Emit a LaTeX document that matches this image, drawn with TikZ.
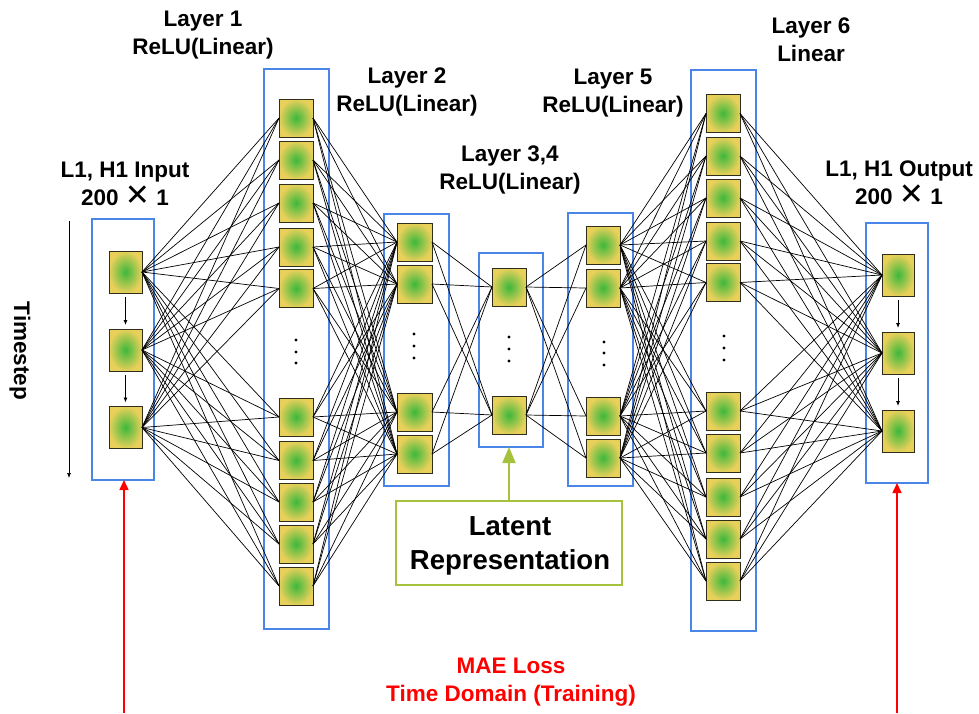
\documentclass[tikz,border=0pt]{standalone}
\usepackage{fontspec}
\setmainfont{Liberation Sans}
\newfontfamily\xsymfont{DejaVu Sans}
\usetikzlibrary{arrows.meta}
\definecolor{nblue}{HTML}{4A86E8}
\definecolor{ngreen}{HTML}{3CB83C}
\definecolor{nyellow}{HTML}{E8D05A}
\definecolor{latentc}{HTML}{A6C13C}
\definecolor{nborder}{HTML}{2E2E1A}
\newcommand\timesx{{\xsymfont\bfseries\fontsize{30}{28}\selectfont ✕}}
\begin{document}
\begin{tikzpicture}[x=1pt,y=-1pt,
  neuron/.style={draw=nborder, line width=0.9pt, shading=radial, inner color=ngreen, outer color=nyellow,
    minimum width=34pt, minimum height=38pt, inner sep=0pt, outer sep=0pt},
  layerbox/.style={draw=nblue, line width=1.8pt, inner sep=0pt, outer sep=0pt},
  conn/.style={black, line width=0.7pt},
  lbl/.style={font=\bfseries\fontsize{22.5}{28}\selectfont, align=center, inner sep=0pt},
  vdot/.style={fill=black, circle, inner sep=0pt, minimum size=3.4pt},
  smallarrow/.style={black, line width=0.8pt, -{Latex[length=5pt,width=4pt]}},
  redarrow/.style={red, line width=1.6pt, -{Triangle[length=10pt,width=9pt]}},
  latentarrow/.style={latentc, line width=2.2pt, -{Triangle[length=16pt,width=13pt]}}]
\useasboundingbox (0,0) rectangle (979,713);

% layer boxes
\node[layerbox, minimum width=62pt, minimum height=261pt] (bIn) at (123,349.5) {};
\node[layerbox, minimum width=65pt, minimum height=560pt] (bA) at (296.5,349) {};
\node[layerbox, minimum width=65pt, minimum height=272pt] (bB) at (416.5,350) {};
\node[layerbox, minimum width=64pt, minimum height=194pt] (bC) at (511,350) {};
\node[layerbox, minimum width=65pt, minimum height=273pt] (bD) at (600.5,349.5) {};
\node[layerbox, minimum width=65pt, minimum height=561pt] (bE) at (723.5,350.5) {};
\node[layerbox, minimum width=62pt, minimum height=260pt] (bOut) at (897,353) {};

% neurons
\foreach \y [count=\k] in {272,350,427.5}
  \node[neuron, minimum width=33pt, minimum height=42pt] (i\k) at (125.5,\y) {};
\foreach \y [count=\k] in {118,160,203,247,288.5,417,460.5,502,544,586}
  \node[neuron] (a\k) at (296,\y) {};
\foreach \y [count=\k] in {242,284,412,454}
  \node[neuron, minimum width=35pt] (b\k) at (414.5,\y) {};
\foreach \y [count=\k] in {287,415}
  \node[neuron] (c\k) at (509,\y) {};
\foreach \y [count=\k] in {245,288,416,458}
  \node[neuron] (d\k) at (603,\y) {};
\foreach \y [count=\k] in {113.5,156,198,241,282.5,411,453,497,539,581}
  \node[neuron] (e\k) at (723,\y) {};
\foreach \y [count=\k] in {275,353,431}
  \node[neuron, minimum width=32pt, minimum height=42pt] (o\k) at (898,\y) {};

% connections
\foreach \s in {1,...,3}{\foreach \t in {1,...,10}{\draw[conn] (i\s.east) -- (a\t.west);}}
\foreach \s in {1,...,10}{\foreach \t in {1,...,4}{\draw[conn] (a\s.east) -- (b\t.west);}}
\foreach \s in {1,...,4}{\foreach \t in {1,2}{\draw[conn] (b\s.east) -- (c\t.west);}}
\foreach \s in {1,2}{\foreach \t in {1,...,4}{\draw[conn] (c\s.east) -- (d\t.west);}}
\foreach \s in {1,...,4}{\foreach \t in {1,...,10}{\draw[conn] (d\s.east) -- (e\t.west);}}
\foreach \s in {1,...,10}{\foreach \t in {1,...,3}{\draw[conn] (e\s.east) -- (o\t.west);}}

% time arrows inside input/output columns
\draw[smallarrow] ([yshift=-4pt]i1.south) -- ([yshift=4pt]i2.north);
\draw[smallarrow] ([yshift=-4pt]i2.south) -- ([yshift=4pt]i3.north);
\draw[smallarrow] ([yshift=-4pt]o1.south) -- ([yshift=4pt]o2.north);
\draw[smallarrow] ([yshift=-4pt]o2.south) -- ([yshift=4pt]o3.north);

% vertical dots
\foreach \y [count=\k] in {340,352,363} \node[vdot] (dA\k) at (296,\y) {};
\foreach \y [count=\k] in {334,346,358} \node[vdot] (dB\k) at (414,\y) {};
\foreach \y [count=\k] in {337,349,361} \node[vdot] (dC\k) at (509,\y) {};
\foreach \y [count=\k] in {342,353,365} \node[vdot] (dD\k) at (604,\y) {};
\foreach \y [count=\k] in {336,348,360} \node[vdot] (dE\k) at (724,\y) {};

% timestep arrow
\coordinate (tsTop) at (69,221);
\coordinate (tsBot) at (69,478);
\draw[smallarrow, line width=0.7pt] (tsTop) -- (tsBot);
\node[lbl, rotate=-90] (tTime) at (20,351) {Timestep};

% labels
\node[lbl] (tIn) at (125,184) {L1, H1 Input\\200 \timesx{} 1};
\node[lbl] (tA) at (203,35) {Layer 1\\ReLU(Linear)};
\node[lbl] (tB) at (407,92) {Layer 2\\ReLU(Linear)};
\node[lbl] (tC) at (510,170) {Layer 3,4\\ReLU(Linear)};
\node[lbl] (tD) at (613,93) {Layer 5\\ReLU(Linear)};
\node[lbl] (tE) at (811,40) {Layer 6\\Linear};
\node[lbl] (tOut) at (899,183) {L1, H1 Output\\200 \timesx{} 1};

% latent representation
\node[draw=latentc, line width=2.5pt, minimum width=226pt, minimum height=84pt] (latent) at (509,543) {};
\node[align=center, inner sep=0pt, font=\bfseries\fontsize{27.5}{34}\selectfont] (tLatent) at (510,546) {Latent\\Representation};
\draw[latentarrow] (latent.north) -- (latent.north |- bC.south);

% loss
\coordinate (redL) at (124,713);
\coordinate (redR) at (897,713);
\draw[redarrow] (redL) -- (redL |- bIn.south);
\draw[redarrow] (redR) -- (redR |- bOut.south);
\node[lbl, text=red] (tLoss) at (511,682) {MAE Loss\\Time Domain (Training)};
\end{tikzpicture}
\end{document}
